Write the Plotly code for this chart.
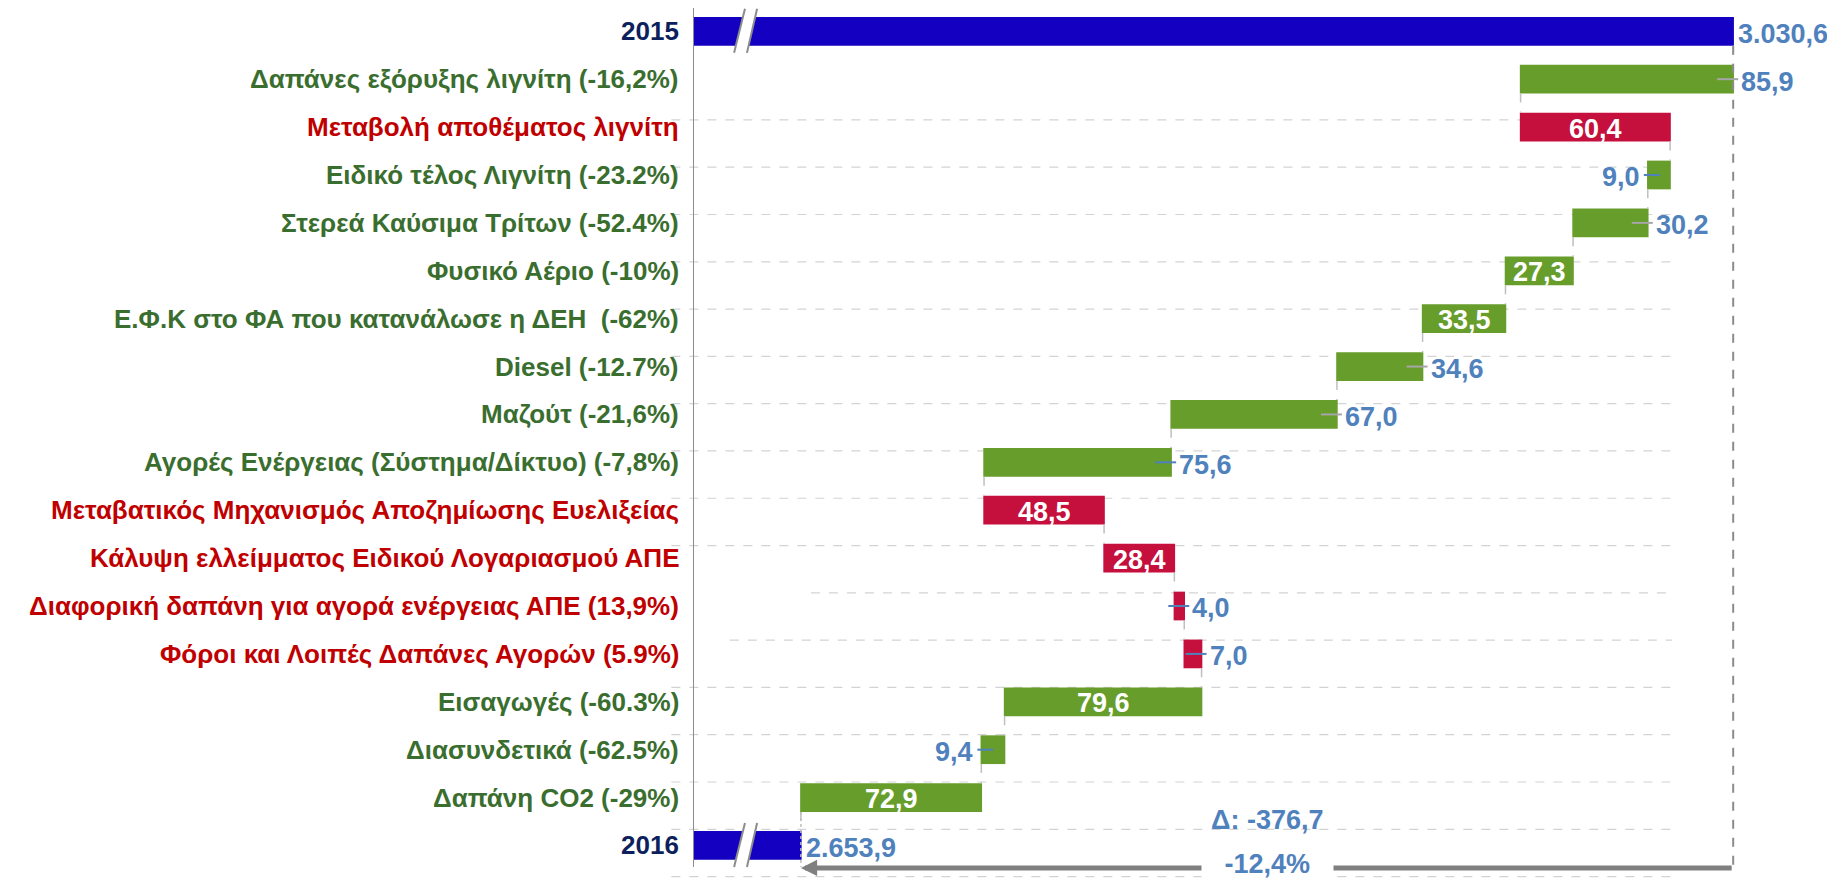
import plotly.graph_objects as go

# ---------------- data ----------------
categories = [
    "2015",
    "Δαπάνες εξόρυξης λιγνίτη (-16,2%)",
    "Μεταβολή αποθέματος λιγνίτη",
    "Ειδικό τέλος Λιγνίτη (-23.2%)",
    "Στερεά Καύσιμα Τρίτων (-52.4%)",
    "Φυσικό Αέριο (-10%)",
    "Ε.Φ.Κ στο ΦΑ που κατανάλωσε η ΔΕΗ \u00a0(-62%)",
    "Diesel (-12.7%)",
    "Μαζούτ (-21,6%)",
    "Αγορές Ενέργειας (Σύστημα/Δίκτυο) (-7,8%)",
    "Μεταβατικός Μηχανισμός Αποζημίωσης Ευελιξείας",
    "Κάλυψη ελλείμματος Ειδικού Λογαριασμού ΑΠΕ",
    "Διαφορική δαπάνη για αγορά ενέργειας ΑΠΕ (13,9%)",
    "Φόροι και Λοιπές Δαπάνες Αγορών (5.9%)",
    "Εισαγωγές (-60.3%)",
    "Διασυνδετικά (-62.5%)",
    "Δαπάνη CO2 (-29%)",
    "2016",
]
measures = ["absolute"] + ["relative"] * 16 + ["total"]
values = [3030.6, -85.9, 60.4, -9.0, -30.2, -27.3, -33.5, -34.6, -67.0,
          -75.6, 48.5, 28.4, 4.0, 7.0, -79.6, -9.4, -72.9, 0]
delta_label = "Δ: -376,7"
pct_label = "-12,4%"

# ---------------- styles ----------------
label_pos = ["out", "out", "in", "left", "out", "in", "in", "out", "out",
             "out", "in", "in", "out", "out", "in", "left", "in", "out"]
leader = [None, "g", None, "b", "g", None, None, "g", "g",
          "b", None, None, "b", "b", None, "b", None, None]

BLUE_BAR = "#1400C0"
GREEN_BAR = "#679D2B"
RED_BAR = "#C50F3C"
GREEN_TXT = "#3A6E2F"
RED_TXT = "#C00000"
NAVY_TXT = "#0D1F5C"
VAL_BLUE = "#4F81BD"
FONT = "Liberation Sans, Arial, sans-serif"
CAT_SIZE = 26
VAL_SIZE = 27

X0, X1 = 2610.3, 3047.5
Y_TOP, Y_BOT = -0.4865, 17.70
n = len(categories)
ypos = list(range(n))


def ypaper(v):
    return (Y_BOT - v) / (Y_BOT - Y_TOP)


# cumulative starts / ends
starts, ends = [], []
cum = 0.0
for m, v in zip(measures, values):
    if m == "absolute":
        s, e = 0.0, v
        cum = v
    elif m == "total":
        s, e = 0.0, cum
    else:
        s, e = cum, cum + v
        cum = cum + v
    starts.append(s)
    ends.append(e)


def fmt(v):
    s = f"{v:,.1f}"
    return s.replace(",", "X").replace(".", ",").replace("X", ".")


fig = go.Figure()
fig.add_trace(go.Waterfall(
    orientation="h",
    y=ypos,
    x=values,
    measure=measures,
    width=0.6,
    increasing=dict(marker=dict(color=RED_BAR)),
    decreasing=dict(marker=dict(color=GREEN_BAR)),
    totals=dict(marker=dict(color=BLUE_BAR)),
    connector=dict(mode="between", line=dict(color="#BFBFBF", width=1.5, dash="dash")),
    hoverinfo="skip",
    textposition="none",
))

shapes = []
annotations = []

# dashed gridlines (behind)
for k in range(17):
    yy = ypaper(1.85 + 0.9875 * k)
    x_start = -0.02
    if k == 10:
        x_start = 0.109
    elif k == 11:
        x_start = 0.034
    shapes.append(dict(type="line", xref="paper", yref="paper", x0=x_start, x1=0.905,
                       y0=yy, y1=yy, layer="below",
                       line=dict(color="#D3D3D3", width=1.2, dash="dash")))

# y axis line
shapes.append(dict(type="line", xref="x", yref="y", x0=X0, x1=X0, y0=-0.53, y1=17.45,
                   line=dict(color="#8C8C8C", width=2)))

# long reference line from 2015 value
shapes.append(dict(type="line", xref="x", yref="y", x0=ends[0], x1=ends[0], y0=0.3, y1=17.52,
                   line=dict(color="#8C8C8C", width=2, dash="dash")))
# 2016 edge line down to arrow
shapes.append(dict(type="line", xref="x", yref="y", x0=ends[-1], x1=ends[-1], y0=16.3, y1=17.45,
                   line=dict(color="#BFBFBF", width=1.5, dash="dot")))

# axis break marks on the total bars
for i in (0, n - 1):
    yt, yb = i - 0.47, i + 0.45
    xtl, xtr, xbl, xbr = 2631.3, 2636.2, 2626.9, 2632.1
    shapes.append(dict(type="path", xref="x", yref="y",
                       path=f"M{xbl},{yb} L{xtl},{yt} L{xtr},{yt} L{xbr},{yb} Z",
                       fillcolor="white", line=dict(width=0)))
    for (a, b) in ((xtl, xbl), (xtr, xbr)):
        shapes.append(dict(type="line", xref="x", yref="y", x0=a, y0=yt, x1=b, y1=yb,
                           line=dict(color="#8C8C8C", width=2)))

# category labels
for i, c in enumerate(categories):
    if measures[i] != "relative":
        col = NAVY_TXT
    elif values[i] < 0:
        col = GREEN_TXT
    else:
        col = RED_TXT
    annotations.append(dict(xref="paper", yref="y", x=0, y=i, xanchor="right", yanchor="middle",
                            xshift=-12, text=f"<b>{c}</b>", showarrow=False,
                            font=dict(family=FONT, size=CAT_SIZE, color=col)))

# value labels
for i in range(n):
    s, e = starts[i], ends[i]
    if measures[i] == "relative":
        txt = fmt(abs(values[i]))
    else:
        txt = fmt(e)
    lo, hi = min(s, e), max(s, e)
    pos = label_pos[i]
    if pos == "in":
        annotations.append(dict(xref="x", yref="y", x=(lo + hi) / 2, y=i + 0.03, text=f"<b>{txt}</b>",
                                showarrow=False, xanchor="center", yanchor="middle",
                                font=dict(family=FONT, size=VAL_SIZE, color="white")))
    elif pos == "out":
        annotations.append(dict(xref="x", yref="y", x=hi, y=i + 0.05, text=f"<b>{txt}</b>",
                                showarrow=False, xanchor="left", yanchor="middle",
                                xshift=6 if measures[i] == "relative" else 3,
                                font=dict(family=FONT, size=VAL_SIZE, color=VAL_BLUE)))
        if leader[i]:
            shapes.append(dict(type="line", xref="x", yref="y", xsizemode="pixel", xanchor=hi,
                               x0=-16, x1=5, y0=i, y1=i,
                               line=dict(color="#A6A6A6" if leader[i] == "g" else VAL_BLUE, width=2)))
    else:
        annotations.append(dict(xref="x", yref="y", x=lo, y=i + 0.05, text=f"<b>{txt}</b>",
                                showarrow=False, xanchor="right", yanchor="middle", xshift=-6,
                                font=dict(family=FONT, size=VAL_SIZE, color=VAL_BLUE)))
        if leader[i]:
            shapes.append(dict(type="line", xref="x", yref="y", xsizemode="pixel", xanchor=lo,
                               x0=-4, x1=12, y0=i, y1=i,
                               line=dict(color=VAL_BLUE, width=2)))

# total-change arrow and labels
mid = (ends[0] + ends[-1]) / 2
annotations.append(dict(xref="x", yref="y", x=ends[-1], y=17.47, ax=ends[0], ay=17.47,
                        axref="x", ayref="y", text="", showarrow=True, arrowhead=2,
                        arrowsize=0.65, arrowwidth=5, arrowcolor="#808080", standoff=0))
annotations.append(dict(xref="x", yref="y", x=mid, y=17.38, text=f"<b>\u00a0\u00a0\u00a0{pct_label}\u00a0\u00a0\u00a0</b>",
                        showarrow=False, bgcolor="white", borderpad=0,
                        font=dict(family=FONT, size=VAL_SIZE, color=VAL_BLUE)))
annotations.append(dict(xref="x", yref="y", x=mid, y=16.47, text=f"<b>{delta_label}</b>",
                        showarrow=False,
                        font=dict(family=FONT, size=VAL_SIZE, color=VAL_BLUE)))

# the page body adds an 8px offset, so the figure is sized to fill the rest
fig.update_layout(
    width=1827, height=871,
    margin=dict(l=685, r=60, t=0, b=0),
    paper_bgcolor="white", plot_bgcolor="white",
    showlegend=False,
    xaxis=dict(range=[X0, X1], visible=False, fixedrange=True),
    yaxis=dict(range=[Y_BOT, Y_TOP], visible=False, fixedrange=True),
    shapes=shapes,
    annotations=annotations,
    font=dict(family=FONT),
)

fig.write_html("out.html")
